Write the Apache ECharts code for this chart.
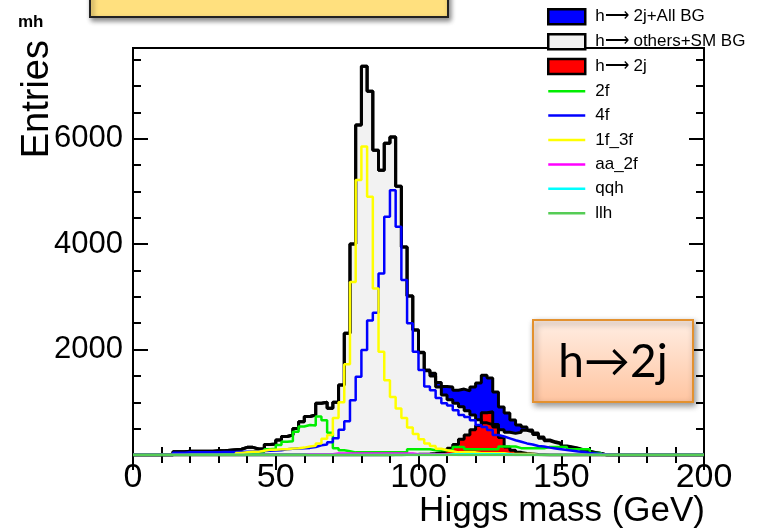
<!DOCTYPE html>
<html>
<head>
<meta charset="utf-8">
<script src="https://cdn.jsdelivr.net/npm/echarts@6/dist/echarts.min.js"></script>
<style>
html, body { margin: 0; padding: 0; background: #fff; }
#main { width: 768px; height: 532px; }
</style>
</head>
<body>
<div id="main"></div>
<script>
// binning: 100 bins of 2 GeV, 0 - 200 GeV
const binLow = 0;
const binWidth = 2;
const xTicks = [0, 50, 100, 150, 200];
const yLabels = [2000, 4000, 6000];
const yMax = 7720;

// h-> 2j + All BG (blue fill)
const total = [
    0, 0, 0, 0, 0, 0, 0, 60, 60, 70,
    70, 70, 70, 70, 80, 80, 90, 100, 110, 145,
    145, 115, 115, 200, 210, 285, 350, 380, 505, 630,
    730, 760, 980, 1000, 885, 1000, 1330, 2310, 4000, 6260,
    7375, 6900, 5780, 5400, 5915, 6030, 5100, 3945, 3015, 2370,
    1950, 1610, 1550, 1375, 1300, 1290, 1230, 1250, 1215, 1290,
    1365, 1515, 1460, 1195, 910, 795, 665, 570, 530, 475,
    415, 340, 285, 250, 225, 170, 150, 130, 95, 70,
    50, 30, 0, 0, 0, 0, 0, 0, 0, 0,
    0, 0, 0, 0, 0, 0, 0, 0, 0, 0
];

// h-> others + SM BG (grey fill)
const others = [
    0, 0, 0, 0, 0, 0, 0, 60, 60, 70,
    70, 70, 70, 70, 80, 80, 90, 100, 110, 145,
    145, 115, 115, 200, 210, 285, 350, 380, 505, 630,
    730, 760, 980, 1000, 885, 1000, 1330, 2310, 4000, 6260,
    7375, 6900, 5780, 5400, 5915, 6030, 5100, 3945, 3015, 2370,
    1940, 1600, 1500, 1290, 1140, 1050, 980, 915, 840, 760,
    670, 610, 575, 530, 480, 430, 410, 430, 470, 440,
    390, 320, 270, 238, 212, 160, 142, 122, 88, 65,
    45, 28, 0, 0, 0, 0, 0, 0, 0, 0,
    0, 0, 0, 0, 0, 0, 0, 0, 0, 0
];

// h-> 2j (red fill)
const signal = [
    0, 0, 0, 0, 0, 0, 0, 0, 0, 0,
    0, 0, 0, 0, 0, 0, 0, 0, 0, 0,
    0, 0, 0, 0, 0, 0, 0, 0, 0, 0,
    0, 0, 0, 0, 0, 0, 0, 0, 0, 0,
    0, 0, 0, 0, 0, 5, 5, 8, 10, 12,
    15, 20, 30, 50, 80, 130, 200, 300, 380, 480,
    560, 800, 820, 580, 330, 150, 90, 50, 30, 20,
    10, 5, 0, 0, 0, 0, 0, 0, 0, 0,
    0, 0, 0, 0, 0, 0, 0, 0, 0, 0,
    0, 0, 0, 0, 0, 0, 0, 0, 0, 0
];

const bg2f = [
    0, 0, 0, 0, 0, 0, 0, 20, 20, 20,
    20, 20, 20, 20, 20, 20, 25, 25, 30, 30,
    40, 40, 60, 110, 120, 190, 250, 260, 440, 540,
    570, 560, 730, 660, 420, 130, 90, 70, 50, 50,
    50, 50, 50, 50, 50, 50, 50, 50, 110, 110,
    110, 110, 90, 90, 90, 90, 150, 150, 110, 110,
    110, 110, 110, 110, 160, 160, 160, 130, 130, 130,
    130, 130, 150, 150, 150, 150, 110, 110, 110, 110,
    40, 40, 0, 0, 0, 0, 0, 0, 0, 0,
    0, 0, 0, 0, 0, 0, 0, 0, 0, 0
];

const bg4f = [
    0, 0, 0, 0, 0, 0, 0, 45, 45, 50,
    50, 50, 50, 50, 50, 55, 55, 55, 60, 60,
    65, 70, 75, 80, 85, 90, 110, 120, 125, 130,
    135, 150, 185, 200, 240, 320, 480, 640, 1040, 1485,
    1990, 2550, 2700, 3445, 4520, 5020, 4330, 3320, 2500, 1960,
    1610, 1300, 1230, 1080, 980, 940, 850, 760, 720, 660,
    570, 530, 475, 380, 350, 315, 280, 250, 220, 200,
    170, 160, 140, 125, 110, 95, 80, 65, 55, 40,
    30, 20, 10, 0, 0, 0, 0, 0, 0, 0,
    0, 0, 0, 0, 0, 0, 0, 0, 0, 0
];

const bg1f3f = [
    0, 0, 0, 0, 0, 0, 0, 0, 0, 0,
    0, 0, 0, 0, 0, 0, 0, 0, 40, 50,
    60, 60, 80, 100, 100, 110, 110, 125, 130, 140,
    160, 175, 220, 310, 380, 700, 1000, 1720, 3280, 5214,
    5850, 4900, 3160, 1960, 1420, 1100, 880, 700, 520, 400,
    300, 220, 170, 120, 90, 70, 50, 50, 50, 50,
    35, 35, 35, 35, 35, 20, 20, 20, 20, 20,
    0, 0, 0, 0, 0, 0, 0, 0, 0, 0,
    0, 0, 0, 0, 0, 0, 0, 0, 0, 0,
    0, 0, 0, 0, 0, 0, 0, 0, 0, 0
];

const bgAa2f = [
    0, 0, 0, 0, 0, 0, 0, 0, 0, 0,
    0, 0, 0, 0, 0, 0, 0, 0, 0, 0,
    0, 0, 0, 0, 0, 0, 0, 0, 0, 0,
    15, 15, 15, 15, 15, 30, 30, 30, 30, 30,
    30, 30, 30, 30, 30, 30, 30, 30, 30, 15,
    15, 15, 15, 15, 15, 15, 0, 0, 0, 0,
    0, 0, 0, 0, 0, 0, 0, 0, 0, 0,
    0, 0, 0, 0, 0, 0, 0, 0, 0, 0,
    0, 0, 0, 0, 0, 0, 0, 0, 0, 0,
    0, 0, 0, 0, 0, 0, 0, 0, 0, 0
];

const bgQqh = [
    0, 0, 0, 0, 0, 0, 0, 0, 0, 0,
    0, 0, 0, 0, 0, 0, 0, 0, 0, 0,
    0, 0, 0, 0, 0, 0, 0, 0, 0, 0,
    0, 0, 0, 0, 0, 0, 0, 0, 0, 0,
    0, 0, 0, 0, 0, 0, 0, 0, 0, 0,
    0, 0, 0, 0, 0, 12, 12, 12, 12, 12,
    12, 12, 12, 12, 12, 12, 0, 0, 0, 0,
    0, 0, 0, 0, 0, 0, 0, 0, 0, 0,
    0, 0, 0, 0, 0, 0, 0, 0, 0, 0,
    0, 0, 0, 0, 0, 0, 0, 0, 0, 0
];

const bgLlh = [
    0, 0, 0, 0, 0, 0, 0, 0, 0, 0,
    0, 0, 0, 0, 0, 0, 0, 0, 0, 0,
    0, 0, 0, 0, 0, 0, 0, 0, 0, 0,
    0, 0, 0, 0, 0, 0, 0, 0, 0, 0,
    0, 0, 0, 0, 0, 0, 0, 0, 0, 0,
    0, 0, 0, 0, 0, 0, 0, 0, 0, 0,
    0, 0, 0, 0, 0, 0, 0, 0, 0, 0,
    0, 0, 0, 0, 0, 0, 0, 0, 0, 0,
    0, 0, 0, 0, 0, 0, 0, 0, 0, 0,
    0, 0, 0, 0, 0, 0, 0, 0, 0, 0
];

const FONT = 'Liberation Sans, Arial, Helvetica, sans-serif';
// legend line icon: thin bar, keeps its aspect inside the icon box
const LINE_ICON = 'path://M0,0 H37 V2.5 H0 Z';

// 把每个bin的值转成阶梯线的点
function steps(vals) {
    const pts = vals.map(function(v, i) { return [binLow + i * binWidth, v]; });
    pts.push([binLow + vals.length * binWidth, vals[vals.length - 1]]);
    return pts;
}

function filledHist(name, vals, fill) {
    return {
        name: name,
        type: 'line',
        step: 'end',
        symbol: 'none',
        data: steps(vals),
        lineStyle: { color: '#000', width: 3 },
        itemStyle: { color: fill },
        areaStyle: { color: fill, opacity: 1 }
    };
}

function lineHist(name, vals, color) {
    return {
        name: name,
        type: 'line',
        step: 'end',
        symbol: 'none',
        data: steps(vals),
        lineStyle: { color: color, width: 2.5 },
        itemStyle: { color: color }
    };
}

const chart = echarts.init(document.getElementById('main'));

const tickStyle = { color: '#000', width: 2 };
const boxBorder = { borderColor: '#000', borderWidth: 2.5 };

const option = {
    animation: false,
    backgroundColor: '#fff',
    grid: {
        left: 133, right: 64, top: 48, bottom: 77,
        show: true, borderColor: '#000', borderWidth: 2
    },
    legend: {
        orient: 'vertical',
        left: 547,
        top: 8,
        padding: 0,
        itemWidth: 37,
        itemHeight: 15,
        itemGap: 7.4,
        selectedMode: false,
        textStyle: { fontSize: 17, lineHeight: 16, color: '#000', fontFamily: FONT, padding: [0, 0, 0, 5] },
        data: [
            { name: 'h\u27f6 2j+All BG', icon: 'rect', itemStyle: boxBorder },
            { name: 'h\u27f6 others+SM BG', icon: 'rect', itemStyle: boxBorder },
            { name: 'h\u27f6 2j', icon: 'rect', itemStyle: boxBorder },
            { name: '2f', icon: LINE_ICON },
            { name: '4f', icon: LINE_ICON },
            { name: '1f_3f', icon: LINE_ICON },
            { name: 'aa_2f', icon: LINE_ICON },
            { name: 'qqh', icon: LINE_ICON },
            { name: 'llh', icon: LINE_ICON }
        ]
    },
    xAxis: [
        {
            type: 'value', min: xTicks[0], max: xTicks[xTicks.length - 1], interval: 50,
            position: 'bottom',
            axisLine: { show: true, lineStyle: { color: '#000', width: 2 } },
            axisTick: { show: true, inside: true, length: 15, lineStyle: tickStyle },
            minorTick: { show: true, splitNumber: 5, length: 8, lineStyle: tickStyle },
            axisLabel: {
                color: '#000', fontSize: 34, fontFamily: FONT, margin: 6,
                formatter: function(v) { return xTicks.indexOf(v) >= 0 ? String(v) : ''; }
            },
            splitLine: { show: false }
        },
        {
            type: 'value', min: xTicks[0], max: xTicks[xTicks.length - 1], interval: 50,
            position: 'top',
            axisLine: { show: true, lineStyle: { color: '#000', width: 2 } },
            axisTick: { show: true, inside: true, length: 15, lineStyle: tickStyle },
            minorTick: { show: true, splitNumber: 5, length: 8, lineStyle: tickStyle },
            axisLabel: { show: false },
            splitLine: { show: false }
        }
    ],
    yAxis: [
        {
            type: 'value', min: 0, max: yMax, interval: 500, position: 'left',
            axisLine: { show: true, lineStyle: { color: '#000', width: 2 } },
            axisTick: { show: true, inside: true, length: 8, lineStyle: tickStyle },
            axisLabel: { show: false },
            splitLine: { show: false }
        },
        {
            type: 'value', min: 0, max: yMax, interval: 2000, position: 'left',
            axisLine: { show: false },
            axisTick: { show: true, inside: true, length: 15, lineStyle: tickStyle },
            axisLabel: {
                color: '#000', fontSize: 31, fontFamily: FONT, margin: 10,
                formatter: function(v) { return yLabels.indexOf(v) >= 0 ? String(v) : ''; }
            },
            splitLine: { show: false }
        },
        {
            type: 'value', min: 0, max: yMax, interval: 500, position: 'right',
            axisLine: { show: true, lineStyle: { color: '#000', width: 2 } },
            axisTick: { show: true, inside: true, length: 8, lineStyle: tickStyle },
            axisLabel: { show: false },
            splitLine: { show: false }
        },
        {
            type: 'value', min: 0, max: yMax, interval: 2000, position: 'right',
            axisLine: { show: false },
            axisTick: { show: true, inside: true, length: 15, lineStyle: tickStyle },
            axisLabel: { show: false },
            splitLine: { show: false }
        }
    ],
    series: [
        filledHist('h\u27f6 2j+All BG', total, '#0000ff'),
        filledHist('h\u27f6 others+SM BG', others, '#f2f2f2'),
        filledHist('h\u27f6 2j', signal, '#ff0000'),
        lineHist('2f', bg2f, '#00ee00'),
        lineHist('4f', bg4f, '#0000ff'),
        lineHist('1f_3f', bg1f3f, '#ffff00'),
        lineHist('aa_2f', bgAa2f, '#ff00ff'),
        lineHist('qqh', bgQqh, '#00ffff'),
        lineHist('llh', bgLlh, '#55cc55')
    ],
    graphic: [
        {
            type: 'rect', z: 100,
            shape: { x: 90, y: -12, width: 358, height: 29 },
            style: {
                fill: '#ffe07e', stroke: '#222', lineWidth: 2,
                shadowBlur: 5, shadowOffsetX: 2, shadowOffsetY: 3, shadowColor: 'rgba(0,0,0,0.45)'
            }
        },
        {
            type: 'text', z: 100, x: 18, y: 22,
            style: { text: 'mh', font: 'bold 17px ' + FONT, fill: '#000', textVerticalAlign: 'middle' }
        },
        {
            type: 'text', z: 100, x: 38, y: 40, rotation: Math.PI / 2,
            style: {
                text: 'Entries', font: '38px ' + FONT, fill: '#000',
                textAlign: 'right', textVerticalAlign: 'middle'
            }
        },
        {
            type: 'text', z: 100, x: 705, y: 511,
            style: {
                text: 'Higgs mass (GeV)', font: '35px ' + FONT, fill: '#000',
                textAlign: 'right', textVerticalAlign: 'middle'
            }
        },
        {
            type: 'rect', z: 100,
            shape: { x: 533, y: 320, width: 160, height: 82 },
            style: {
                fill: new echarts.graphic.LinearGradient(0, 0, 0, 1, [
                    { offset: 0, color: '#ffeee4' },
                    { offset: 1, color: '#ffc4a0' }
                ]),
                stroke: '#e3912f', lineWidth: 2,
                shadowBlur: 6, shadowOffsetX: 2, shadowOffsetY: 3, shadowColor: 'rgba(0,0,0,0.4)'
            }
        },
        {
            type: 'text', z: 101, x: 613, y: 362,
            style: {
                text: 'h\u21922j', font: '46px Lato, ' + FONT, fill: '#000',
                textAlign: 'center', textVerticalAlign: 'middle'
            }
        }
    ]
};

chart.setOption(option);
</script>
</body>
</html>
